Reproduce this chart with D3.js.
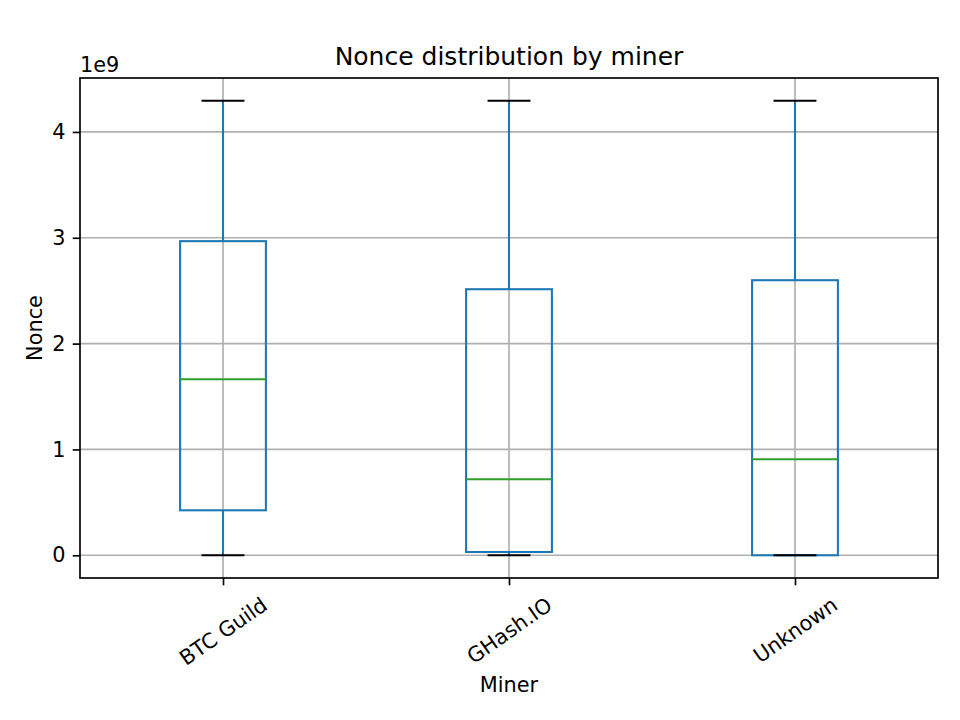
<!DOCTYPE html>
<html>
<head>
<meta charset="utf-8">
<script src="https://cdn.jsdelivr.net/npm/d3@7"></script>
<style>
  body { margin: 0; background: #fff; }
  text { font-family: "DejaVu Sans", sans-serif; fill: #000; }
</style>
</head>
<body>
<svg id="chart" width="960" height="720"></svg>
<script>
// box stats, nonce in units of 1e9
const miners = ['BTC Guild', 'GHash.IO', 'Unknown']
const whiskerLow = [0, 0, 0]
const q1 = [0.425, 0.031, 0.0]
const median = [1.664, 0.718, 0.907]
const q3 = [2.968, 2.514, 2.599]
const whiskerHigh = [4.295, 4.295, 4.295]
const yTicks = [0, 1, 2, 3, 4]

const boxes = miners.map((m, i) => ({
  name: m, lo: whiskerLow[i], q1: q1[i], med: median[i], q3: q3[i], hi: whiskerHigh[i]
}))

// figure was 150 dpi, so 1pt = 150/72 px
const pt = 150 / 72
const fs = 10 * pt, titleFs = 12 * pt
const margin = {top: 78, right: 22, bottom: 142, left: 80}
const width = 960, height = 720
const svg = d3.select('#chart')
const iw = width - margin.left - margin.right
const ih = height - margin.top - margin.bottom

const dmin = d3.min(whiskerLow), dmax = d3.max(whiskerHigh)
const pad = (dmax - dmin) * 0.05
const y = d3.scaleLinear().domain([dmin - pad, dmax + pad]).range([ih, 0])
const x = d3.scaleLinear().domain([0.5, miners.length + 0.5]).range([0, iw])

const g = svg.append('g').attr('transform', `translate(${margin.left},${margin.top})`)

// grid
g.selectAll('.hgrid').data(yTicks).enter().append('line')
  .attr('x1', 0).attr('x2', iw)
  .attr('y1', d => y(d)).attr('y2', d => y(d))
  .attr('stroke', '#b0b0b0').attr('stroke-width', 0.8 * pt)
g.selectAll('.vgrid').data(miners).enter().append('line')
  .attr('x1', (d, i) => x(i + 1)).attr('x2', (d, i) => x(i + 1))
  .attr('y1', 0).attr('y2', ih)
  .attr('stroke', '#b0b0b0').attr('stroke-width', 0.8 * pt)

const boxW = 0.3, capW = 0.15, lw = 1 * pt
const bx = g.selectAll('.box').data(boxes).enter().append('g')

// box
bx.append('rect')
  .attr('x', (d, i) => x(i + 1 - boxW / 2))
  .attr('width', x(1 + boxW / 2) - x(1 - boxW / 2))
  .attr('y', d => y(d.q3))
  .attr('height', d => y(d.q1) - y(d.q3))
  .attr('fill', 'none').attr('stroke', '#1f77b4').attr('stroke-width', lw)
// median
bx.append('line')
  .attr('x1', (d, i) => x(i + 1 - boxW / 2)).attr('x2', (d, i) => x(i + 1 + boxW / 2))
  .attr('y1', d => y(d.med)).attr('y2', d => y(d.med))
  .attr('stroke', '#2ca02c').attr('stroke-width', lw)
// whiskers
bx.append('line')
  .attr('x1', (d, i) => x(i + 1)).attr('x2', (d, i) => x(i + 1))
  .attr('y1', d => y(d.q1)).attr('y2', d => y(d.lo))
  .attr('stroke', '#1f77b4').attr('stroke-width', lw)
bx.append('line')
  .attr('x1', (d, i) => x(i + 1)).attr('x2', (d, i) => x(i + 1))
  .attr('y1', d => y(d.q3)).attr('y2', d => y(d.hi))
  .attr('stroke', '#1f77b4').attr('stroke-width', lw)
// caps on top
bx.append('line')
  .attr('x1', (d, i) => x(i + 1 - capW / 2)).attr('x2', (d, i) => x(i + 1 + capW / 2))
  .attr('y1', d => y(d.lo)).attr('y2', d => y(d.lo))
  .attr('stroke', '#000').attr('stroke-width', lw)
bx.append('line')
  .attr('x1', (d, i) => x(i + 1 - capW / 2)).attr('x2', (d, i) => x(i + 1 + capW / 2))
  .attr('y1', d => y(d.hi)).attr('y2', d => y(d.hi))
  .attr('stroke', '#000').attr('stroke-width', lw)

// frame
g.append('rect').attr('width', iw).attr('height', ih)
  .attr('fill', 'none').attr('stroke', '#000').attr('stroke-width', 0.8 * pt)

const tick = 3.5 * pt
// y axis
const yAxis = g.append('g')
  .call(d3.axisLeft(y).tickValues(yTicks).tickFormat(d3.format('d')).tickSizeOuter(0).tickSize(tick).tickPadding(tick))
yAxis.select('.domain').remove()
yAxis.selectAll('line').attr('stroke', '#000').attr('stroke-width', 0.8 * pt)
yAxis.selectAll('text').attr('font-size', fs + 'px').attr('font-family', 'DejaVu Sans')

// x axis, labels rotated 35deg and centred under the tick like matplotlib
const xAxis = g.append('g').attr('transform', `translate(0,${ih})`)
  .call(d3.axisBottom(x).tickValues(miners.map((m, i) => i + 1)).tickFormat((d) => miners[d - 1]).tickSizeOuter(0).tickSize(tick))
xAxis.select('.domain').remove()
xAxis.selectAll('line').attr('stroke', '#000').attr('stroke-width', 0.8 * pt)
const ang = 35 * Math.PI / 180
xAxis.selectAll('text')
  .attr('font-size', fs + 'px').attr('font-family', 'DejaVu Sans')
  .attr('text-anchor', 'middle').attr('dy', null).attr('y', 0)
  .attr('dominant-baseline', 'central')
  .each(function () {
    const w = this.getComputedTextLength()
    const h = fs * 1.17
    const H = w * Math.sin(ang) + h * Math.cos(ang)
    d3.select(this).attr('transform', `translate(0,${2 * tick + H / 2}) rotate(-35)`)
  })

// labels
svg.append('text').attr('x', margin.left + iw / 2).attr('y', 65)
  .attr('text-anchor', 'middle').attr('font-size', titleFs + 'px').text('Nonce distribution by miner')
svg.append('text').attr('x', margin.left).attr('y', 72)
  .attr('font-size', fs + 'px').text('1e9')
svg.append('text').attr('x', margin.left + iw / 2).attr('y', 692)
  .attr('text-anchor', 'middle').attr('font-size', fs + 'px').text('Miner')
svg.append('text')
  .attr('transform', `translate(42,${margin.top + ih / 2}) rotate(-90)`)
  .attr('text-anchor', 'middle').attr('font-size', fs + 'px').text('Nonce')
</script>
</body>
</html>
